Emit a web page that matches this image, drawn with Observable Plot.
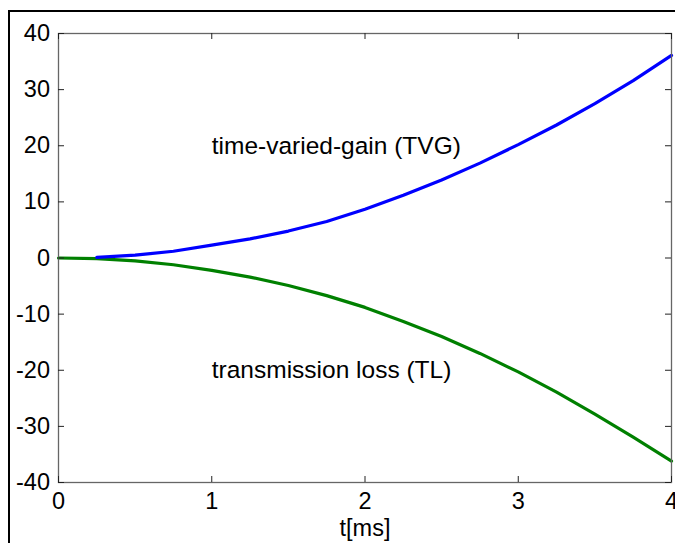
<!DOCTYPE html>
<html>
<head>
<meta charset="utf-8">
<script src="https://cdn.jsdelivr.net/npm/d3@7"></script>
<script src="https://cdn.jsdelivr.net/npm/@observablehq/plot@0.6"></script>
<style>
  html, body { margin: 0; padding: 0; background: #fff; }
  #wrap { position: relative; width: 675px; height: 543px; overflow: hidden; }
  #frame { position: absolute; left: 8px; top: 10px; width: 700px; height: 600px;
           border-left: 2.5px solid #000; border-top: 2.5px solid #000; pointer-events: none; }
  svg { font-family: "Liberation Sans", Arial, sans-serif; }
</style>
</head>
<body>
<div id="wrap"><div id="frame"></div></div>
<script>
// Time axis (ms) and curves (dB)
const tTVG = [0.25, 0.5, 0.75, 1, 1.25, 1.5, 1.75, 2, 2.25, 2.5, 2.75, 3, 3.25, 3.5, 3.75, 4];
const tvg  = [0.1, 0.5, 1.2, 2.3, 3.4, 4.8, 6.5, 8.7, 11.2, 13.9, 16.9, 20.2, 23.7, 27.5, 31.6, 36.1];
const tTL  = [0, 0.25, 0.5, 0.75, 1, 1.25, 1.5, 1.75, 2, 2.25, 2.5, 2.75, 3, 3.25, 3.5, 3.75, 4];
const tl   = [0, -0.1, -0.5, -1.2, -2.2, -3.4, -4.9, -6.7, -8.8, -11.3, -14.0, -17.0, -20.3, -23.9, -27.8, -31.9, -36.2];
const xTicks = [0, 1, 2, 3, 4];
const yTicks = [-40, -30, -20, -10, 0, 10, 20, 30, 40];
const labels = [
  {t: 1, v: 20, text: "time-varied-gain (TVG)"},
  {t: 1, v: -20, text: "transmission loss (TL)"}
];
const xLabel = "t[ms]";

const tvgData = tTVG.map((t, i) => ({t, v: tvg[i]}));
const tlData = tTL.map((t, i) => ({t, v: tl[i]}));

const W = 675, H = 543;
const mL = 58, mT = 33, mR = 4, mB = 61;
const tick = 6;
const fmt = d => String(d);

const chart = Plot.plot({
  width: W, height: H,
  marginLeft: mL, marginTop: mT, marginRight: mR, marginBottom: mB,
  style: {fontFamily: "Liberation Sans, Arial, sans-serif", background: "transparent", overflow: "visible"},
  x: {domain: [0, 4], ticks: xTicks},
  y: {domain: [-40, 40], ticks: yTicks},
  marks: [
    Plot.line(tlData, {x: "t", y: "v", stroke: "#008000", strokeWidth: 3.2}),
    Plot.line(tvgData, {x: "t", y: "v", stroke: "#0000ff", strokeWidth: 3.2}),
    Plot.text(labels, {x: "t", y: "v", text: "text", textAnchor: "start", fontSize: 24.5, fill: "#000"}),
    Plot.frame({stroke: "#666", strokeWidth: 1.3}),
    // inward ticks (left / right / bottom / top)
    Plot.tickY(yTicks, {y: d => d, stroke: "#222", insetRight: W - mL - mR - tick}),
    Plot.tickY(yTicks, {y: d => d, stroke: "#222", insetLeft: W - mL - mR - tick}),
    Plot.tickX(xTicks, {x: d => d, stroke: "#222", insetTop: H - mT - mB - tick}),
    Plot.tickX(xTicks, {x: d => d, stroke: "#222", insetBottom: H - mT - mB - tick}),
    Plot.axisY({anchor: "left", ticks: yTicks, tickFormat: fmt, tickSize: 0, tickPadding: 8.5, fontSize: 23.5, label: null, color: "#000"}),
    Plot.axisX({anchor: "bottom", ticks: xTicks, tickFormat: fmt, tickSize: 0, tickPadding: 10, fontSize: 23.5, label: null, color: "#000"}),
    Plot.text([xLabel], {frameAnchor: "bottom", dy: 53, text: d => d, fontSize: 23.5, fill: "#000"})
  ]
});
document.getElementById("wrap").prepend(chart);
</script>
</body>
</html>
